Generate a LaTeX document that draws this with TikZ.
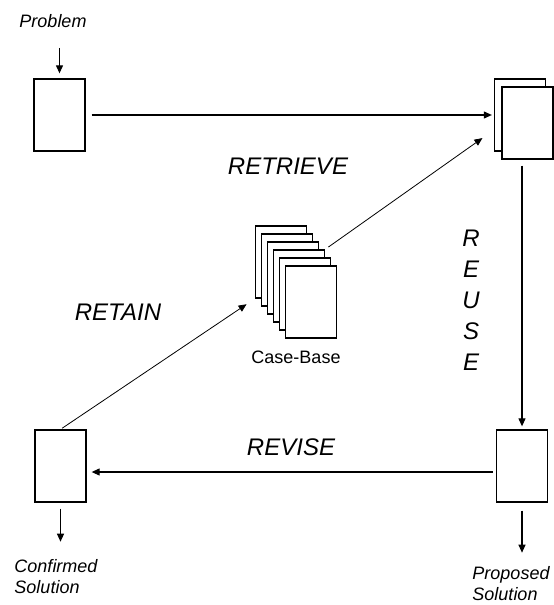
\documentclass[tikz,border=0pt]{standalone}
\usepackage{fontspec}
\setmainfont{Liberation Sans}
\usetikzlibrary{positioning,calc,arrows.meta}

\begin{document}
\begin{tikzpicture}[
    x=1pt, y=-1pt,
    every node/.style={inner sep=0pt},
    sheet/.style={rectangle, draw=black, fill=white, line width=1.3pt, minimum width=51pt, minimum height=72pt},
    arrow/.style={-{Triangle[length=8pt,width=7pt]}, line width=1.1pt},
    thinarrow/.style={-{Triangle[length=8pt,width=7pt]}, line width=0.8pt},
    phase/.style={font=\fontsize{24}{31}\selectfont\itshape, align=center},
    caption/.style={font=\fontsize{18}{21}\selectfont\itshape, align=left},
]
\useasboundingbox (0,0) rectangle (554,605);
\node[caption] (problem) at (53,21) {Problem};
\node[sheet] (probbox) at (59.5,115) {};
\node[sheet] (retrback) at (520,115) {};
\node[sheet] (retrieved) at (527.5,123) {};
\foreach \i in {0,...,5}
    \node[sheet] (cb\i) at (281+6*\i,262+8*\i) {};
\node[font=\fontsize{18}{21}\selectfont] (cblabel) at (296,357) {Case-Base};
\node[sheet] (confbox) at (60.5,466) {};
\node[sheet] (propbox) at (522,466) {};
\node[caption] (conflabel) at (56,577) {Confirmed\\Solution};
\node[caption] (proplabel) at (511,584) {Proposed\\Solution};
\node[phase] (retrieve) at (288,166) {RETRIEVE};
\node[phase] (retain) at (118,312) {RETAIN};
\node[phase] (revise) at (291,447) {REVISE};
\node[phase] (reuse) at (471,300) {R\\E\\U\\S\\E};
% cycle connectors
\draw[arrow, shorten <=20pt, shorten >=5pt] (probbox.north |- problem.south) -- (probbox.north);
\draw[arrow, shorten <=6pt, shorten >=2pt] (probbox.east) -- (retrback.west);
\draw[arrow, shorten <=6pt, shorten >=3pt] (propbox.north |- retrieved.south) -- (propbox.north);
\draw[arrow, shorten <=3pt, shorten >=5pt] ([yshift=-6pt]propbox.west) -- ([yshift=-6pt]confbox.east);
\draw[thinarrow, shorten <=2pt, shorten >=10pt] (confbox.north) -- (cb0.south west);
\draw[thinarrow, shorten <=4pt, shorten >=14pt] (cb3.north east) -- ([yshift=-15pt]retrback.west);
\draw[arrow, shorten <=6pt, shorten >=18pt] (confbox.south) -- (confbox.south |- conflabel.north);
\draw[arrow, shorten <=8pt, shorten >=14pt] (propbox.south) -- (propbox.south |- proplabel.north);
\end{tikzpicture}
\end{document}
